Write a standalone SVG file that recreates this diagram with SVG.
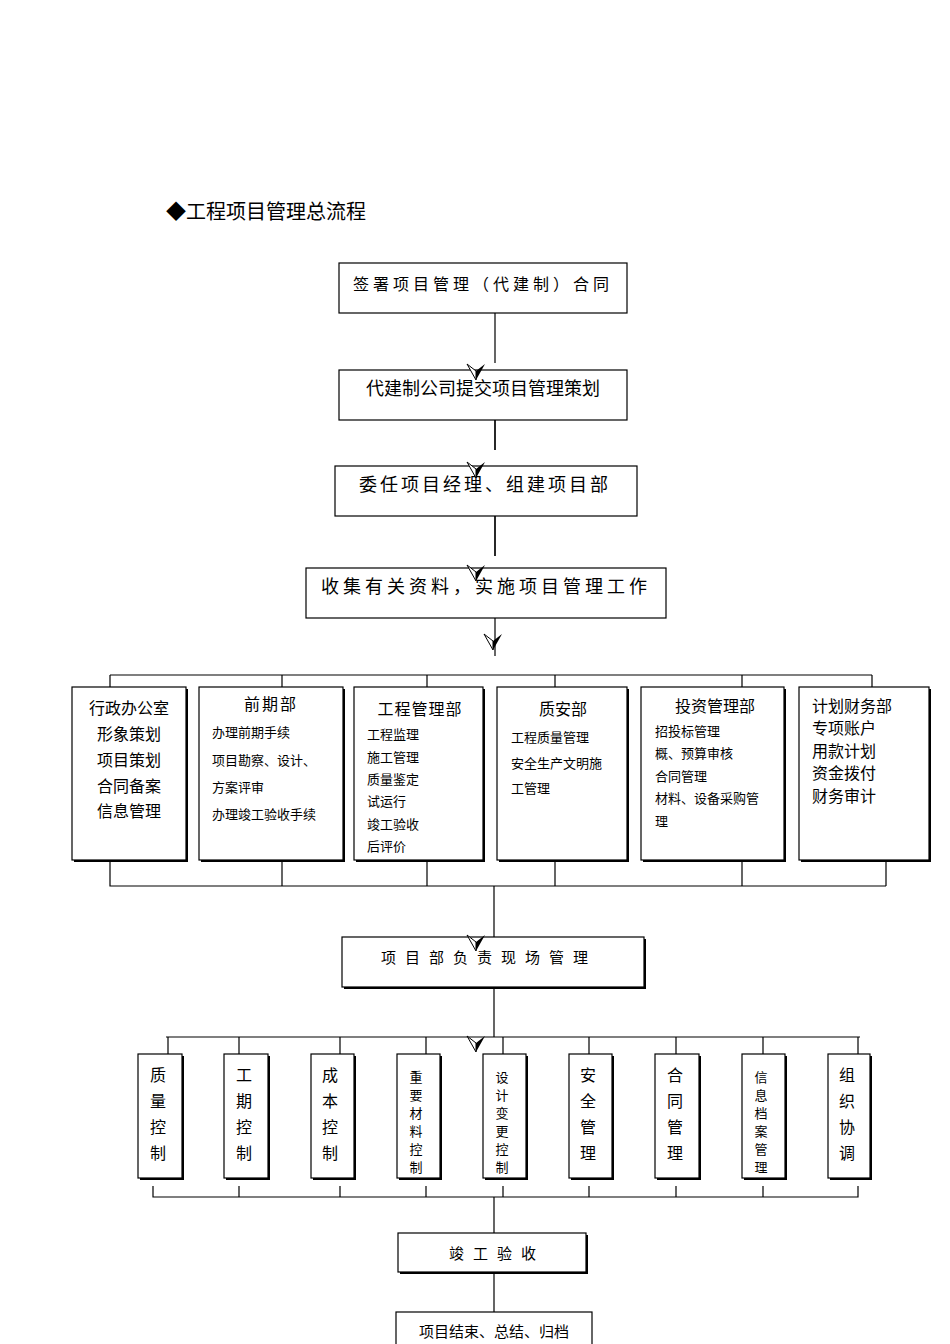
<svg xmlns="http://www.w3.org/2000/svg" xmlns:xlink="http://www.w3.org/1999/xlink" width="950" height="1344" viewBox="0 0 950 1344">
<style>
text{font-family:"Noto Sans CJK SC","Liberation Serif",serif;fill:#000}
.b{fill:#fff;stroke:#000;stroke-width:1.2}
.s{fill:#000}
.l{stroke:#000;stroke-width:1.2;fill:none}
.t{font-size:16px}
.m{font-size:13px}
.v{font-size:16px;text-anchor:middle}
.w{font-size:13px;text-anchor:middle}
.c{text-anchor:middle}
</style>
<defs>
<g id="ah"><path d="M0,0 L-9,-16 L0,-9 Z" fill="#fff" stroke="#000" stroke-width="1"/><path d="M0,0 L0,-9 L9,-16 Z" fill="#000"/></g>
</defs>
<rect width="950" height="1344" fill="#fff"/>
<text x="166" y="219" font-size="20">◆工程项目管理总流程</text>
<g id="n1"><rect class="b" x="339" y="263" width="288" height="50"/><text x="483" y="290" class="t c" letter-spacing="4">签署项目管理（代建制）合同</text></g>
<g id="n2"><rect class="b" x="339" y="370" width="288" height="50"/><text x="483" y="395" font-size="18" class="c">代建制公司提交项目管理策划</text></g>
<g id="n3"><rect class="b" x="335" y="466" width="302" height="50"/><text x="485" y="491" font-size="18" class="c" letter-spacing="3">委任项目经理、组建项目部</text></g>
<g id="n4"><rect class="b" x="306" y="568" width="360" height="50"/><text x="486" y="593" font-size="18" class="c" letter-spacing="4">收集有关资料，实施项目管理工作</text></g>
<g id="d1"><rect class="s" x="74" y="689" width="114" height="173"/><rect class="b" x="72" y="687" width="114" height="173"/>
<text class="t c" x="129" y="714">行政办公室</text><text class="t c" x="129" y="740">形象策划</text><text class="t c" x="129" y="766">项目策划</text><text class="t c" x="129" y="792">合同备案</text><text class="t c" x="129" y="817">信息管理</text></g>
<g id="d2"><rect class="s" x="201" y="689" width="144" height="173"/><rect class="b" x="199" y="687" width="144" height="173"/>
<text class="t c" x="271" y="710" letter-spacing="2">前期部</text><text class="m" x="212" y="737">办理前期手续</text><text class="m" x="212" y="765">项目勘察、设计、</text><text class="m" x="212" y="792">方案评审</text><text class="m" x="212" y="819">办理竣工验收手续</text></g>
<g id="d3"><rect class="s" x="356" y="689" width="129" height="173"/><rect class="b" x="354" y="687" width="129" height="173"/>
<text class="t c" x="420" y="715" letter-spacing="1">工程管理部</text><text class="m" x="367" y="739">工程监理</text><text class="m" x="367" y="762">施工管理</text><text class="m" x="367" y="784">质量鉴定</text><text class="m" x="367" y="806">试运行</text><text class="m" x="367" y="829">竣工验收</text><text class="m" x="367" y="851">后评价</text></g>
<g id="d4"><rect class="s" x="499" y="689" width="130" height="173"/><rect class="b" x="497" y="687" width="130" height="173"/>
<text class="t c" x="563" y="715">质安部</text><text class="m" x="511" y="742">工程质量管理</text><text class="m" x="511" y="768">安全生产文明施</text><text class="m" x="511" y="793">工管理</text></g>
<g id="d5"><rect class="s" x="643" y="689" width="143" height="173"/><rect class="b" x="641" y="687" width="143" height="173"/>
<text class="t c" x="715" y="712">投资管理部</text><text class="m" x="655" y="736">招投标管理</text><text class="m" x="655" y="758">概、预算审核</text><text class="m" x="655" y="781">合同管理</text><text class="m" x="655" y="803">材料、设备采购管</text><text class="m" x="655" y="826">理</text></g>
<g id="d6"><rect class="s" x="801" y="689" width="130" height="173"/><rect class="b" x="799" y="687" width="130" height="173"/>
<text class="t" x="812" y="712">计划财务部</text><text class="t" x="812" y="734">专项账户</text><text class="t" x="812" y="757">用款计划</text><text class="t" x="812" y="779">资金拨付</text><text class="t" x="812" y="802">财务审计</text></g>
<g id="n5"><rect class="s" x="344" y="939" width="302" height="50"/><rect class="b" x="342" y="937" width="302" height="50"/><text x="489" y="963" class="c" font-size="15" letter-spacing="9">项目部负责现场管理</text></g>
<g id="v1"><rect class="s" x="140" y="1056" width="44" height="124"/><rect class="b" x="138" y="1054" width="44" height="124"/><text class="v" x="158" y="1081">质</text><text class="v" x="158" y="1107">量</text><text class="v" x="158" y="1133">控</text><text class="v" x="158" y="1159">制</text></g>
<g id="v2"><rect class="s" x="226" y="1056" width="44" height="124"/><rect class="b" x="224" y="1054" width="44" height="124"/><text class="v" x="244" y="1081">工</text><text class="v" x="244" y="1107">期</text><text class="v" x="244" y="1133">控</text><text class="v" x="244" y="1159">制</text></g>
<g id="v3"><rect class="s" x="313" y="1056" width="43" height="124"/><rect class="b" x="311" y="1054" width="43" height="124"/><text class="v" x="330" y="1081">成</text><text class="v" x="330" y="1107">本</text><text class="v" x="330" y="1133">控</text><text class="v" x="330" y="1159">制</text></g>
<g id="v4"><rect class="s" x="399" y="1056" width="43" height="124"/><rect class="b" x="397" y="1054" width="43" height="124"/><text class="w" x="416" y="1082">重</text><text class="w" x="416" y="1100">要</text><text class="w" x="416" y="1118">材</text><text class="w" x="416" y="1136">料</text><text class="w" x="416" y="1154">控</text><text class="w" x="416" y="1172">制</text></g>
<g id="v5"><rect class="s" x="485" y="1056" width="43" height="124"/><rect class="b" x="483" y="1054" width="43" height="124"/><text class="w" x="502" y="1082">设</text><text class="w" x="502" y="1100">计</text><text class="w" x="502" y="1118">变</text><text class="w" x="502" y="1136">更</text><text class="w" x="502" y="1154">控</text><text class="w" x="502" y="1172">制</text></g>
<g id="v6"><rect class="s" x="571" y="1056" width="43" height="124"/><rect class="b" x="569" y="1054" width="43" height="124"/><text class="v" x="588" y="1081">安</text><text class="v" x="588" y="1107">全</text><text class="v" x="588" y="1133">管</text><text class="v" x="588" y="1159">理</text></g>
<g id="v7"><rect class="s" x="657" y="1056" width="44" height="124"/><rect class="b" x="655" y="1054" width="44" height="124"/><text class="v" x="675" y="1081">合</text><text class="v" x="675" y="1107">同</text><text class="v" x="675" y="1133">管</text><text class="v" x="675" y="1159">理</text></g>
<g id="v8"><rect class="s" x="744" y="1056" width="43" height="124"/><rect class="b" x="742" y="1054" width="43" height="124"/><text class="w" x="761" y="1082">信</text><text class="w" x="761" y="1100">息</text><text class="w" x="761" y="1118">档</text><text class="w" x="761" y="1136">案</text><text class="w" x="761" y="1154">管</text><text class="w" x="761" y="1172">理</text></g>
<g id="v9"><rect class="s" x="830" y="1056" width="42" height="124"/><rect class="b" x="828" y="1054" width="42" height="124"/><text class="v" x="847" y="1081">组</text><text class="v" x="847" y="1107">织</text><text class="v" x="847" y="1133">协</text><text class="v" x="847" y="1159">调</text></g>
<g id="n6"><rect class="s" x="400" y="1235" width="188" height="39"/><rect class="b" x="398" y="1233" width="188" height="39"/><text x="497" y="1259" class="c" font-size="15" letter-spacing="9">竣工验收</text></g>
<g id="n7"><rect class="b" x="396" y="1312" width="196" height="40"/><text x="494" y="1337" class="c" font-size="15">项目结束、总结、归档</text></g>
<g id="connectors">
<path class="l" d="M495,313V363M495,420V450M495,516V556M495,618V656M110,675H872M110,675V687M282,675V687M427,675V687M555,675V687M742,675V687M872,675V687"/>
<path class="l" d="M495,420V450M495,516V556" stroke-width="2.5"/>
<path class="l" d="M110,862V886H886M282,862V886M427,862V886M555,862V886M742,862V886M886,862V886M494,886V937M494,989V1037M166,1037H860M494,1197V1233M494,1274V1312"/>
<path class="l" d="M168,1037V1054M239,1037V1054M340,1037V1054M426,1037V1054M503,1037V1054M589,1037V1054M676,1037V1054M763,1037V1054M858,1037V1054"/>
<path class="l" d="M153,1186V1197H858V1186M239,1186V1197M340,1186V1197M426,1186V1197M503,1186V1197M589,1186V1197M676,1186V1197M763,1186V1197"/>
<use xlink:href="#ah" x="476" y="380"/>
<use xlink:href="#ah" x="476" y="478"/>
<use xlink:href="#ah" x="476" y="581"/>
<use xlink:href="#ah" x="493" y="650"/>
<use xlink:href="#ah" x="476" y="951"/>
<use xlink:href="#ah" x="476" y="1052"/>
</g>
</svg>
